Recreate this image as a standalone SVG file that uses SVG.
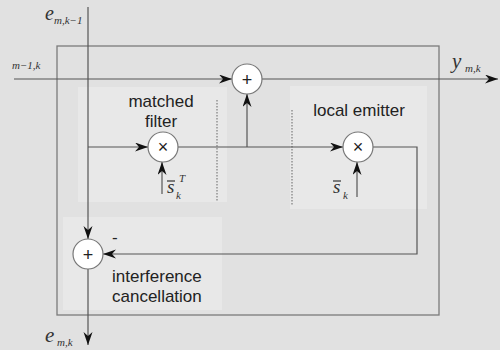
<svg xmlns="http://www.w3.org/2000/svg" width="500" height="350" viewBox="0 0 500 350">
<style>
.bg{fill:#e1e1e1}
.panel{fill:#e8e8e8}
.box{fill:none;stroke:#7a7a7a;stroke-width:1.3}
.ln{fill:none;stroke:#555;stroke-width:1.2}
.dot{fill:none;stroke:#666;stroke-width:1;stroke-dasharray:1.5 1.5}
.node circle{fill:#fff;stroke:#777;stroke-width:1.2}
.op{font-family:"Liberation Sans",Arial,sans-serif;font-size:18px;fill:#222;text-anchor:middle}
.lbl{font-family:"Liberation Sans",Arial,sans-serif;font-size:17px;fill:#222}
.m{font-family:"Liberation Serif","DejaVu Serif",serif;font-style:italic;fill:#333}
</style>
<defs>
<marker id="a" markerUnits="userSpaceOnUse" markerWidth="14" markerHeight="10" refX="13" refY="4.5" orient="auto">
<path d="M0,0 L13,4.5 L0,9 L4,4.5 z" fill="#111"/>
</marker>
</defs>
<rect class="bg" x="0" y="0" width="500" height="350"/>
<rect class="panel" x="78" y="87" width="149" height="115"/>
<rect class="panel" x="290" y="86" width="137" height="123"/>
<rect class="panel" x="63" y="217" width="159" height="93"/>
<rect class="box" x="57" y="46" width="382" height="269"/>
<line class="dot" x1="217" y1="100" x2="217" y2="201"/>
<line class="dot" x1="292" y1="110" x2="292" y2="205"/>
<g id="connectors">
<path class="ln" d="M88,7 L88,239" marker-end="url(#a)"/>
<path class="ln" d="M88,269 L88,345" marker-end="url(#a)"/>
<path class="ln" d="M14,79 L232,79" marker-end="url(#a)"/>
<path class="ln" d="M262,79 L498,79" marker-end="url(#a)"/>
<path class="ln" d="M88,147 L148,147" marker-end="url(#a)"/>
<path class="ln" d="M178,147 L343,147" marker-end="url(#a)"/>
<path class="ln" d="M247,147 L247,94" marker-end="url(#a)"/>
<path class="ln" d="M373,147 L417,147 L417,254 L103,254" marker-end="url(#a)"/>
<path class="ln" d="M162,194 L162,162" marker-end="url(#a)"/>
<path class="ln" d="M357,197 L357,162" marker-end="url(#a)"/>
</g>
<g id="adder-out" class="node"><circle cx="247" cy="79" r="15"/><text class="op" x="247" y="85.5">+</text></g>
<g id="matched-filter" class="node"><circle cx="163" cy="147" r="15"/><text class="op" x="163" y="153">×</text>
<text class="lbl" x="161" y="107" text-anchor="middle">matched</text><text class="lbl" x="161" y="127" text-anchor="middle">filter</text></g>
<g id="local-emitter" class="node"><circle cx="358" cy="147" r="15"/><text class="op" x="358" y="153">×</text>
<text class="lbl" x="359" y="116" text-anchor="middle">local emitter</text></g>
<g id="interference-cancellation" class="node"><circle cx="88" cy="254" r="15"/><text class="op" x="88" y="260.5">+</text>
<text class="lbl" x="112" y="282">interference</text><text class="lbl" x="112" y="302">cancellation</text>
<text class="lbl" x="112" y="243">-</text></g>
<g id="labels">
<text class="m" x="45" y="20" font-size="20">e</text><text class="m" x="54" y="24" font-size="11">m,k−1</text>
<text class="m" x="12" y="69" font-size="11">m−1,k</text>
<text class="m" x="452" y="68" font-size="21">y</text><text class="m" x="465" y="72" font-size="11">m,k</text>
<text class="m" x="167" y="193" font-size="19">s</text><line x1="167" y1="181" x2="175" y2="181" stroke="#333" stroke-width="1.2"/><text class="m" x="179" y="182" font-size="11">T</text><text class="m" x="176" y="199" font-size="11">k</text>
<text class="m" x="333" y="193" font-size="19">s</text><line x1="333" y1="181" x2="341" y2="181" stroke="#333" stroke-width="1.2"/><text class="m" x="343" y="199" font-size="11">k</text>
<text class="m" x="45" y="342" font-size="21">e</text><text class="m" x="57" y="346" font-size="11">m,k</text>
</g>
</svg>
